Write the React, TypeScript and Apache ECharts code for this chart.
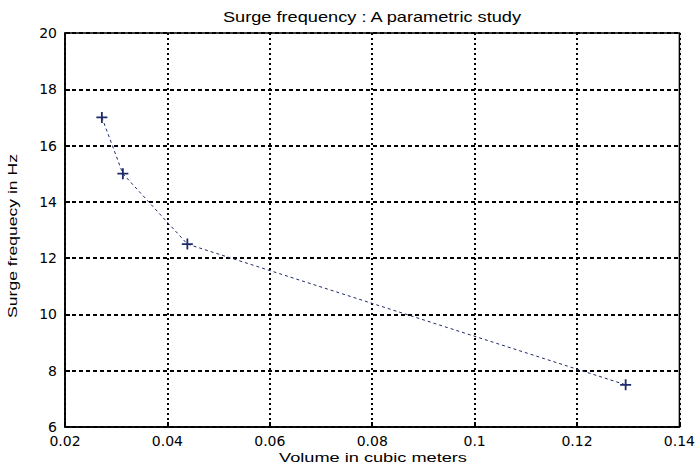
import React, { useEffect, useRef } from "react";
import * as echarts from "echarts";

const volumes = [0.0272, 0.0313, 0.0439, 0.1295];
const frequencies = [17, 15, 12.5, 7.5];
const titleText = "Surge frequency : A parametric study";
const xName = "Volume in cubic meters";
const yName = "Surge frequecy in Hz";

export default function App() {
  const ref = useRef<HTMLDivElement>(null);
  useEffect(() => {
    const chart = echarts.init(ref.current!, null, { renderer: "svg" });
    const font = "Liberation Sans, Arial, sans-serif";
    const tickFont = "DejaVu Sans, sans-serif";
    const data = volumes.map((v, i) => [v, frequencies[i]]);
    chart.setOption({
      animation: false,
      backgroundColor: "#ffffff",
      graphic: [
        {
          type: "text", x: 372, y: 17, scaleX: 1.3,
          style: { text: titleText, font: "14px " + font, fill: "#000", align: "center", verticalAlign: "middle" },
        },
        {
          type: "text", x: 373, y: 457, scaleX: 1.4,
          style: { text: xName, font: "13px " + font, fill: "#000", align: "center", verticalAlign: "middle" },
        },
        {
          type: "text", x: 12, y: 236, scaleX: 1.35, rotation: Math.PI / 2,
          style: { text: yName, font: "13px " + font, fill: "#000", align: "center", verticalAlign: "middle" },
        },
      ],
      grid: {
        left: 65, top: 33, right: 16, bottom: 42,
        show: true, borderColor: "#000", borderWidth: 1.5, backgroundColor: "transparent",
      },
      xAxis: {
        type: "value", min: 0.02, max: 0.14, interval: 0.02,
        axisLine: { show: true, lineStyle: { color: "#000", width: 1.5 } },
        axisTick: { show: true, inside: true, length: 5, lineStyle: { color: "#000", width: 2 } },
        axisLabel: { fontFamily: tickFont, fontSize: 14, color: "#000", margin: 7, formatter: (v: number) => String(+v.toFixed(2)) },
        splitLine: { show: true, lineStyle: { color: "#000", type: [2, 3], width: 2 } },
      },
      yAxis: {
        type: "value", min: 6, max: 20, interval: 2,
        axisLine: { show: true, lineStyle: { color: "#000", width: 1.5 } },
        axisTick: { show: true, inside: true, length: 5, lineStyle: { color: "#000", width: 2 } },
        axisLabel: { fontFamily: tickFont, fontSize: 14, color: "#000", margin: 8 },
        splitLine: { show: true, lineStyle: { color: "#000", type: [4, 3], width: 2 } },
      },
      series: [
        {
          type: "line",
          data,
          symbol: "path://M0,5L10,5M5,0L5,10",
          symbolSize: 11,
          showAllSymbol: true,
          lineStyle: { color: "#1f2a6b", width: 1, type: [3, 3] },
          itemStyle: { color: "#1f2a6b", borderColor: "#1f2a6b", borderWidth: 1.8 },
        },
      ],
    });
    return () => chart.dispose();
  }, []);
  return <div ref={ref} style={{ position: "fixed", left: 0, top: 0, width: 698, height: 469 }} />;
}
